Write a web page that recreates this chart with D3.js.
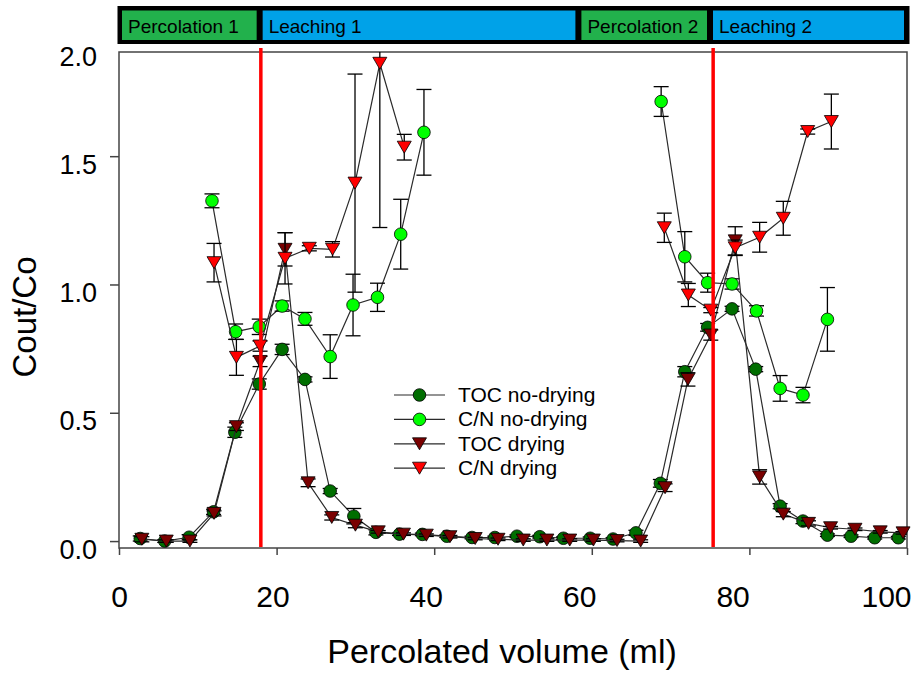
<!DOCTYPE html>
<html>
<head>
<meta charset="utf-8">
<script src="https://cdn.jsdelivr.net/npm/d3@7"></script>
<style>
  body { margin: 0; background: #fff; }
  text { font-family: "Liberation Sans", Arial, sans-serif; fill: #000; }
</style>
</head>
<body>
<svg id="chart" width="916" height="673"></svg>
<script>
// ---- Data -------------------------------------------------------------
// Experiment phases (ml of percolated volume)
const phaseLabels = ["Percolation 1", "Leaching 1", "Percolation 2", "Leaching 2"];
const phaseBounds = [0, 17.85, 58.3, 75.0, 100];
const phaseColors = ["#22b14c", "#00a2e8", "#22b14c", "#00a2e8"];
// Start of each leaching step
const transitionMarks = [18, 75.4];

// TOC, no drying
const tocNoDryX = [2.7, 5.8, 8.9, 12.0, 14.7, 17.8, 20.7, 23.6, 26.8, 29.8, 32.6, 35.6, 38.5, 41.6, 44.8, 47.7, 50.5, 53.4, 56.4, 59.8, 62.7, 65.6, 68.7, 71.8, 74.7, 77.8, 80.8, 83.9, 86.8, 89.9, 92.9, 95.9, 98.9];
const tocNoDryY = [0.01, 0.0, 0.015, 0.114, 0.424, 0.612, 0.747, 0.630, 0.195, 0.097, 0.034, 0.027, 0.026, 0.019, 0.014, 0.014, 0.019, 0.017, 0.011, 0.011, 0.008, 0.032, 0.225, 0.66, 0.833, 0.905, 0.67, 0.136, 0.078, 0.023, 0.019, 0.013, 0.013];
const tocNoDryErr = [0.01, 0.005, 0.01, 0.01, 0.02, 0.02, 0.02, 0.01, 0.01, 0.03, 0.01, 0.005, 0.005, 0.005, 0.005, 0.005, 0.005, 0.005, 0.005, 0.005, 0.005, 0.01, 0.015, 0.02, 0.015, 0.01, 0.01, 0.01, 0.01, 0.005, 0.005, 0.005, 0.005];

// C/N, no drying (null = no sample)
const cnNoDryX = [11.8, 14.8, 17.8, 20.7, 23.6, 26.8, 29.7, 32.8, 35.75, 38.7, null, 68.8, 71.8, 74.7, 77.8, 80.9, 83.9, 86.8, 89.9];
const cnNoDryY = [1.326, 0.816, 0.835, 0.916, 0.866, 0.719, 0.92, 0.95, 1.196, 1.593, null, 1.713, 1.108, 1.007, 1.002, 0.897, 0.595, 0.569, 0.864];
const cnNoDryErr = [0.027, 0.03, 0.03, 0.02, 0.025, 0.085, 0.12, 0.055, 0.136, 0.167, null, 0.058, 0.098, 0.037, 0.02, 0.02, 0.05, 0.03, 0.124];

// TOC, drying
const tocDryX = [2.9, 6.0, 9.0, 12.06, 14.9, 17.9, 21.07, 24.0, 27.0, 30.0, 32.9, 36.1, 39.0, 42.0, 45.2, 48.1, 51.3, 54.3, 57.2, 60.2, 63.2, 66.2, 69.3, 72.2, 75.1, 78.2, 81.3, 84.3, 87.5, 90.3, 93.4, 96.6, 99.5];
const tocDryY = [0.007, 0.0, 0.0, 0.108, 0.446, 0.70, 1.137, 0.227, 0.092, 0.062, 0.036, 0.027, 0.023, 0.017, 0.010, 0.007, 0.004, 0.004, 0.004, 0.004, 0.002, 0.0, 0.208, 0.63, 0.803, 1.17, 0.25, 0.105, 0.069, 0.052, 0.046, 0.036, 0.032];
const tocDryErr = [0.01, 0.005, 0.005, 0.01, 0.015, 0.02, 0.065, 0.015, 0.01, 0.01, 0.005, 0.005, 0.005, 0.005, 0.005, 0.005, 0.005, 0.005, 0.005, 0.005, 0.005, 0.005, 0.015, 0.026, 0.02, 0.055, 0.028, 0.01, 0.01, 0.005, 0.005, 0.005, 0.005];

// C/N, drying (null = no sample)
const cnDryX = [12.06, 14.9, 17.9, 21.07, 24.15, 27.1, 29.95, 33.1, 36.2, null, 69.2, 72.25, 75.1, 78.2, 81.3, 84.3, 87.4, 90.4];
const cnDryY = [1.085, 0.716, 0.76, 1.102, 1.141, 1.137, 1.395, 1.862, 1.535, null, 1.221, 0.959, 0.9, 1.143, 1.184, 1.258, 1.596, 1.635];
const cnDryErr = [0.075, 0.07, 0.02, 0.10, 0.01, 0.03, 0.425, 0.64, 0.05, null, 0.057, 0.045, 0.01, 0.03, 0.058, 0.066, 0.01, 0.107];

// Axis ticks
const xTickValues = [0, 20, 40, 60, 80, 100];
const yTickValues = [0, 0.5, 1.0, 1.5];
const yTopLabel = "2.0";
const xTitle = "Percolated volume (ml)";
const yTitle = "Cout/Co";

// ---- Series definitions ---------------------------------------------------
const series = [
  { name: "TOC no-drying", xs: tocNoDryX, ys: tocNoDryY, es: tocNoDryErr, shape: "circle",   fill: "#006e00" },
  { name: "C/N no-drying", xs: cnNoDryX,  ys: cnNoDryY,  es: cnNoDryErr,  shape: "circle",   fill: "#00ff00" },
  { name: "TOC drying",    xs: tocDryX,   ys: tocDryY,   es: tocDryErr,   shape: "triangle", fill: "#7a0000" },
  { name: "C/N drying",    xs: cnDryX,    ys: cnDryY,    es: cnDryErr,    shape: "triangle", fill: "#ff0000" }
].map(s => ({ ...s, pts: s.xs.map((v, i) => ({ x: v, y: s.ys[i], e: s.es[i] })) }));

// ---- Scales -------------------------------------------------------------
const x = d3.scaleLinear().domain([0, 100]).range([119, 907]);
const y = d3.scaleLinear().domain([-0.027, 1.906]).range([548, 52]);
const [plotLeft, plotRight] = x.range();
const [plotBottom, plotTop] = y.range();

const svg = d3.select("#chart");
svg.append("rect").attr("width", 916).attr("height", 673).attr("fill", "#fff");

svg.append("defs").append("clipPath").attr("id", "plotClip")
  .append("rect").attr("x", plotLeft).attr("y", plotTop)
  .attr("width", plotRight - plotLeft).attr("height", plotBottom - plotTop);

// ---- Phase bar ------------------------------------------------------------
const bar = svg.append("g");
bar.append("rect")
  .attr("x", x(0) - 1.5).attr("y", 6)
  .attr("width", x(100) - x(0) + 4).attr("height", 38)
  .attr("fill", "#000");
const phases = phaseLabels.map((label, i) => ({ label, a: phaseBounds[i], b: phaseBounds[i + 1], color: phaseColors[i] }));
bar.selectAll("rect.phase").data(phases).join("rect")
  .attr("class", "phase")
  .attr("x", d => x(d.a) + 3)
  .attr("y", 10.5)
  .attr("width", d => x(d.b) - x(d.a) - 6)
  .attr("height", 29.5)
  .attr("fill", d => d.color);
bar.selectAll("text").data(phases).join("text")
  .attr("x", d => x(d.a) + 9)
  .attr("y", 33)
  .attr("font-size", 19)
  .text(d => d.label);

// ---- Frame and axes -----------------------------------------------------
svg.append("rect")
  .attr("x", plotLeft).attr("y", plotTop)
  .attr("width", plotRight - plotLeft).attr("height", plotBottom - plotTop)
  .attr("fill", "none").attr("stroke", "#444").attr("stroke-width", 1.5);

const xAxis = svg.append("g").attr("transform", `translate(0,${plotBottom})`)
  .call(d3.axisBottom(x).tickValues(xTickValues).tickSize(7).tickFormat(d3.format("d")));
xAxis.select(".domain").remove();
xAxis.selectAll("line").attr("stroke", "#444").attr("stroke-width", 1.5);
xAxis.selectAll("text")
  .attr("font-size", 30)
  .attr("font-family", "Liberation Sans, Arial, sans-serif")
  .attr("y", 58.5).attr("dy", null)
  .attr("x", d => -0.21 * d);

const yAxis = svg.append("g").attr("transform", `translate(${plotLeft},0)`)
  .call(d3.axisLeft(y).tickValues(yTickValues).tickSize(9).tickFormat(d3.format(".1f")));
yAxis.select(".domain").remove();
yAxis.selectAll("line").attr("stroke", "#444").attr("stroke-width", 1.5);
yAxis.selectAll("text")
  .attr("font-size", 27)
  .attr("font-family", "Liberation Sans, Arial, sans-serif")
  .attr("x", -22).attr("dy", null).attr("y", 17);
svg.append("text")
  .attr("x", plotLeft - 22).attr("y", plotTop + 13.5)
  .attr("text-anchor", "end").attr("font-size", 27)
  .text(yTopLabel);

svg.append("text")
  .attr("x", 502).attr("y", 663)
  .attr("text-anchor", "middle").attr("font-size", 34)
  .text(xTitle);
svg.append("text")
  .attr("transform", "translate(36,317) rotate(-90)")
  .attr("text-anchor", "middle").attr("font-size", 33)
  .text(yTitle);

// ---- Series -------------------------------------------------------------
const line = d3.line()
  .defined(d => d.y !== null && d.x !== null)
  .x(d => x(d.x)).y(d => y(d.y));

function drawMarker(sel, s) {
  if (s.shape === "circle") {
    sel.append("circle").attr("r", 6.3)
      .attr("fill", s.fill).attr("stroke", "#000").attr("stroke-width", 0.8);
  } else {
    sel.append("path").attr("d", "M-7,-6L7,-6L0,6Z")
      .attr("fill", s.fill).attr("stroke", "#000").attr("stroke-width", 0.8);
  }
}

series.forEach(s => {
  const g = svg.append("g");
  const valid = s.pts.filter(d => d.y !== null);

  g.append("path").datum(s.pts)
    .attr("d", line)
    .attr("fill", "none").attr("stroke", "#2a2a2a").attr("stroke-width", 1.2);

  const eb = g.append("g").attr("clip-path", "url(#plotClip)")
    .selectAll("g").data(valid.filter(d => d.e > 0)).join("g")
    .attr("stroke", "#000").attr("stroke-width", 1.3);
  eb.append("line")
    .attr("x1", d => x(d.x)).attr("x2", d => x(d.x))
    .attr("y1", d => y(d.y + d.e)).attr("y2", d => y(d.y - d.e));
  eb.append("line")
    .attr("x1", d => x(d.x) - 7.5).attr("x2", d => x(d.x) + 7.5)
    .attr("y1", d => y(d.y + d.e)).attr("y2", d => y(d.y + d.e));
  eb.append("line")
    .attr("x1", d => x(d.x) - 7.5).attr("x2", d => x(d.x) + 7.5)
    .attr("y1", d => y(d.y - d.e)).attr("y2", d => y(d.y - d.e));

  g.selectAll("g.mk").data(valid).join("g")
    .attr("class", "mk")
    .attr("transform", d => `translate(${x(d.x)},${y(d.y)})`)
    .each(function () { drawMarker(d3.select(this), s); });
});

// ---- Legend -------------------------------------------------------------
const legend = svg.append("g");
series.forEach((s, i) => {
  const row = legend.append("g").attr("transform", `translate(394,${395 + i * 24.4})`);
  row.append("line").attr("x1", 0).attr("x2", 51)
    .attr("stroke", "#2a2a2a").attr("stroke-width", 1.2);
  drawMarker(row.append("g").attr("transform", "translate(25.5,0)"), s);
  row.append("text").attr("x", 64).attr("y", 7).attr("font-size", 21).text(s.name);
});

// ---- Phase transition markers ---------------------------------------------
svg.selectAll("line.transition").data(transitionMarks).join("line")
  .attr("class", "transition")
  .attr("x1", d => x(d)).attr("x2", d => x(d))
  .attr("y1", 48).attr("y2", plotBottom - 1)
  .attr("stroke", "#ff0000").attr("stroke-width", 3.5);
</script>
</body>
</html>
